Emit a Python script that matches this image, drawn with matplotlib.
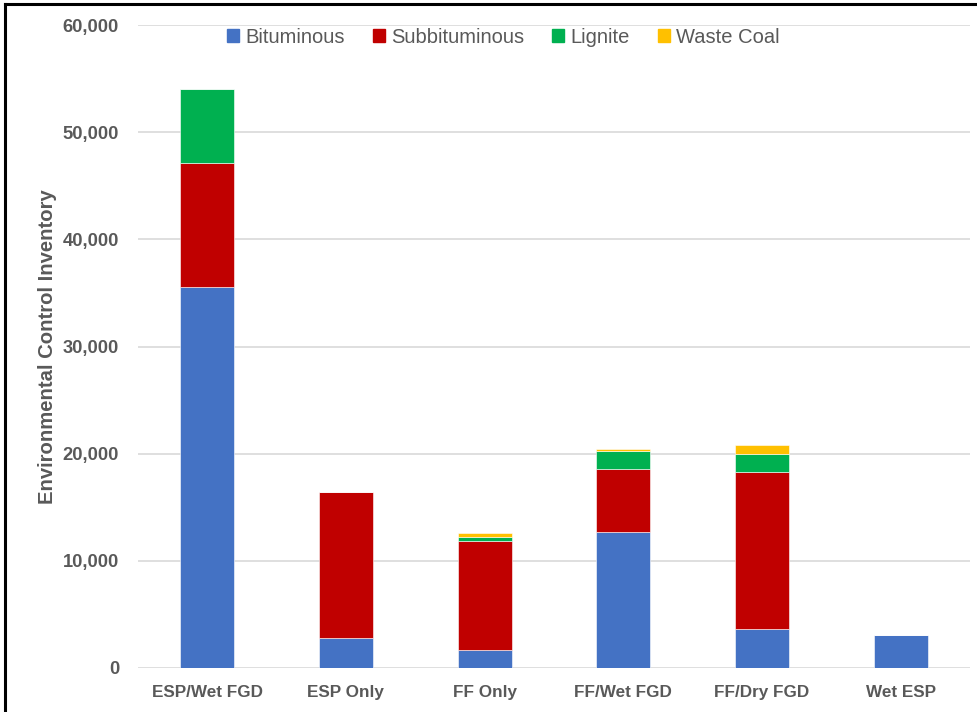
import matplotlib.pyplot as plt
import numpy as np
from matplotlib.lines import Line2D
from matplotlib.ticker import FuncFormatter

plt.rcParams['font.family'] = ['Liberation Sans', 'DejaVu Sans']

categorias = ['ESP/Wet FGD', 'ESP Only', 'FF Only', 'FF/Wet FGD', 'FF/Dry FGD', 'Wet ESP']
bituminous = [35540, 2800, 1680, 12650, 3640, 3080]
subbituminous = [11570, 13620, 10140, 5880, 14610, 0]
lignite = [6900, 0, 430, 1710, 1740, 0]
waste_coal = [0, 0, 370, 160, 810, 0]

series = [('Bituminous', bituminous, '#4472C4'),
          ('Subbituminous', subbituminous, '#C00000'),
          ('Lignite', lignite, '#00B050'),
          ('Waste Coal', waste_coal, '#FFC000')]

gris = '#595959'

fig = plt.figure(figsize=(9.77, 7.12), dpi=100)
ax = fig.add_axes([0.141, 0.0618, 0.852, 0.903])

x = np.arange(len(categorias))
base = np.zeros(len(categorias))
for nombre, valores, color in series:
    v = np.array(valores, dtype=float)
    ax.bar(x, v, width=0.39, bottom=base, color=color, label=nombre,
           edgecolor='white', linewidth=0.4, zorder=3)
    base += v

ax.set_ylim(0, 60000)
ax.set_xlim(-0.5, len(categorias) - 0.5)
ax.set_yticks(range(0, 60001, 10000))
ax.yaxis.set_major_formatter(FuncFormatter(lambda v, p: f'{int(v):,}'))
ax.grid(axis='y', color='#D9D9D9', linewidth=1.2, zorder=0)
for s in ax.spines.values():
    s.set_visible(False)
ax.tick_params(axis='both', length=0, labelcolor=gris)
ax.tick_params(axis='y', labelsize=13.2, pad=13.5)
ax.tick_params(axis='x', labelsize=12.3, pad=12)
ax.set_xticks(x)
ax.set_xticklabels(categorias, fontweight='bold')
for t in ax.get_yticklabels():
    t.set_fontweight('bold')
ax.set_ylabel('Environmental Control Inventory', fontsize=14.6, fontweight='bold',
              color=gris, labelpad=4)

handles = [plt.Rectangle((0, 0), 1, 1, color=c) for _, _, c in series]
ax.legend(handles, [n for n, _, _ in series], loc='center',
          bbox_to_anchor=(0.439, 0.981), ncol=4, frameon=False, fontsize=14.5,
          labelcolor=gris, handlelength=0.6, handleheight=0.6,
          handletextpad=0.3, columnspacing=1.4, borderpad=0)

# marco del recorte
fig.add_artist(Line2D([0.005, 1], [0.994, 0.994], color='black', linewidth=2.2,
                      transform=fig.transFigure))
fig.add_artist(Line2D([0.005, 0.005], [0, 0.994], color='black', linewidth=2.2,
                      transform=fig.transFigure))

fig.savefig('out.png', dpi=100)
